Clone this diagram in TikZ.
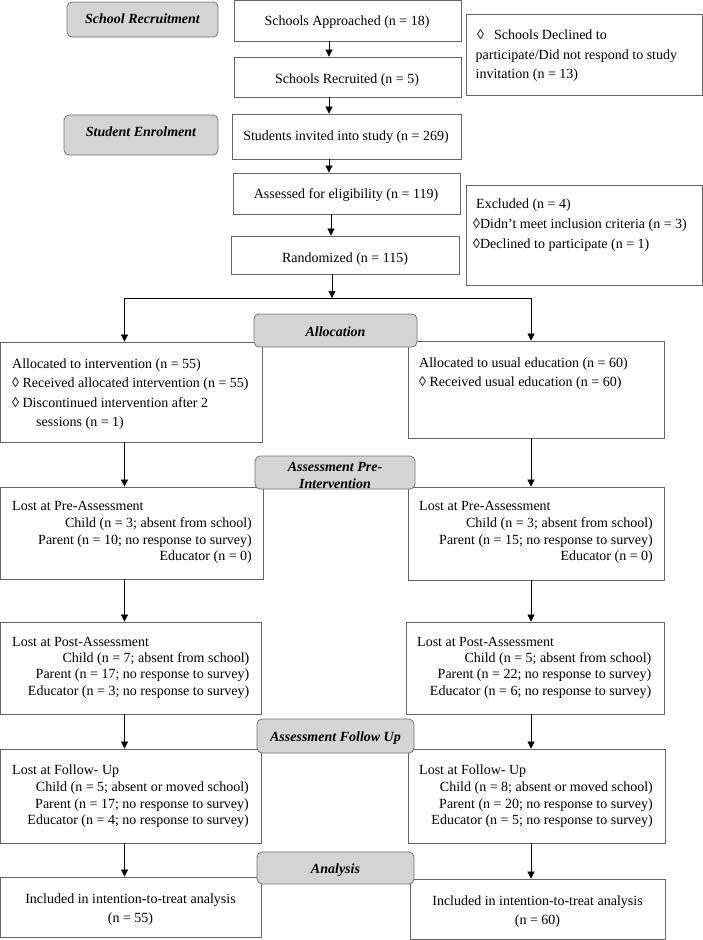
\documentclass[tikz,border=0pt]{standalone}
\usepackage{fontspec}
\setmainfont{Liberation Serif}
\usetikzlibrary{fit,arrows.meta}
\begin{document}
\begin{tikzpicture}[x=1pt,y=-1pt,
 box/.style={draw=black!60, line width=0.8pt, inner sep=0pt},
 stage/.style={draw=black!55, fill=black!17, rounded corners=5pt, line width=0.8pt, inner sep=0pt},
 tl/.style={anchor=mid west, inner sep=0pt, yshift=-3pt, font=\fontsize{14}{16}\selectfont},
 tr/.style={anchor=mid east, inner sep=0pt, yshift=-3pt, font=\fontsize{14}{16}\selectfont},
 tc/.style={anchor=mid, inner sep=0pt, yshift=-3pt, font=\fontsize{14}{16}\selectfont},
 ts/.style={anchor=mid, inner sep=0pt, yshift=-3pt, font=\fontsize{14}{16}\selectfont\bfseries\itshape},
 arr/.style={-{Triangle[length=7pt,width=7pt]}, line width=0.7pt, black},
 ln/.style={line width=0.7pt, black}]
\useasboundingbox (0,0) rectangle (702,940);

% ---- top part
\node[stage, fit={(67,2)(218,37)}] (sr) {};
\node[ts] (srT) at (142.5,18) {School Recruitment};
\node[box, fit={(234,0)(461,41)}] (appr) {};
\node[tc] (apprT) at (347,20) {Schools Approached (n = 18)};
\node[box, fit={(466,14)(702,95)}] (decl) {};
\node[tl] (decl1) at (477,34) {◊\hspace{10pt}Schools Declined to};
\node[tl] (decl2) at (475.5,54) {participate/Did not respond to study};
\node[tl] (decl3) at (475.5,73) {invitation (n = 13)};
\node[box, fit={(234,57)(461,97)}] (recr) {};
\node[tc] (recrT) at (347,78) {Schools Recruited (n = 5)};
\node[stage, fit={(64,115)(218,155)}] (se) {};
\node[ts] (seT) at (141,131) {Student Enrolment};
\node[box, fit={(232,114)(461,159)}] (stud) {};
\node[tc] (studT) at (346,135) {Students invited into study (n = 269)};
\node[box, fit={(233,173)(460,214)}] (asse) {};
\node[tc] (asseT) at (346,193) {Assessed for eligibility (n = 119)};
\node[box, fit={(466,185)(702,285)}] (excl) {};
\node[tl] (excl1) at (476,203) {Excluded (n = 4)};
\node[tl] (excl2) at (473,223) {◊Didn’t meet inclusion criteria (n = 3)};
\node[tl] (excl3) at (473,243) {◊Declined to participate (n = 1)};
\node[box, fit={(231.5,236)(459.5,274)}] (rand) {};
\node[tc] (randT) at (345,257) {Randomized (n = 115)};

\coordinate (cA) at (329,0);
\coordinate (cB) at (331,0);
\coordinate (split) at (332,298);
\coordinate (splitL) at (124.5,298);
\coordinate (splitR) at (531,298);
\coordinate (colL) at (124.5,0);
\coordinate (colR) at (531,0);

% ---- allocation
\node[box, fit={(0,342)(262,442)}] (allocL) {};
\node[tl] (aL1) at (12,363) {Allocated to intervention (n = 55)};
\node[tl] (aL2) at (12,382) {◊ Received allocated intervention (n = 55)};
\node[tl] (aL3) at (12,402) {◊ Discontinued intervention after 2};
\node[tl] (aL4) at (36,421) {sessions (n = 1)};
\node[box, fit={(408,341)(664,438)}] (allocR) {};
\node[tl] (aR1) at (419,362) {Allocated to usual education (n = 60)};
\node[tl] (aR2) at (419,381) {◊ Received usual education (n = 60)};

% ---- pre
\node[box, fit={(0,487)(263,579)}] (preL) {};
\node[tl] (pL1) at (12,505) {Lost at Pre-Assessment};
\node[tr] (pL2) at (252,522) {Child (n = 3; absent from school)};
\node[tr] (pL3) at (252,539) {Parent (n = 10; no response to survey)};
\node[tr] (pL4) at (252,555) {Educator (n = 0)};
\node[box, fit={(408,487)(664,580)}] (preR) {};
\node[tl] (pR1) at (419,505) {Lost at Pre-Assessment};
\node[tr] (pR2) at (653,522) {Child (n = 3; absent from school)};
\node[tr] (pR3) at (653,539) {Parent (n = 15; no response to survey)};
\node[tr] (pR4) at (653,555) {Educator (n = 0)};

% ---- post
\node[box, fit={(0,622)(261,714)}] (postL) {};
\node[tl] (qL1) at (12,641) {Lost at Post-Assessment};
\node[tr] (qL2) at (249.5,657) {Child (n = 7; absent from school)};
\node[tr] (qL3) at (249.5,673) {Parent (n = 17; no response to survey)};
\node[tr] (qL4) at (249.5,690) {Educator (n = 3; no response to survey)};
\node[box, fit={(406,622)(664,714)}] (postR) {};
\node[tl] (qR1) at (417,641) {Lost at Post-Assessment};
\node[tr] (qR2) at (651.5,657) {Child (n = 5; absent from school)};
\node[tr] (qR3) at (651.5,673) {Parent (n = 22; no response to survey)};
\node[tr] (qR4) at (651.5,690) {Educator (n = 6; no response to survey)};

% ---- follow up
\node[box, fit={(0,749)(261,843)}] (folL) {};
\node[tl] (fL1) at (12,769) {Lost at Follow- Up};
\node[tr] (fL2) at (249,786) {Child (n = 5; absent or moved school)};
\node[tr] (fL3) at (249,803) {Parent (n = 17; no response to survey)};
\node[tr] (fL4) at (249,819) {Educator (n = 4; no response to survey)};
\node[box, fit={(408,749)(665,843)}] (folR) {};
\node[tl] (fR1) at (419,769) {Lost at Follow- Up};
\node[tr] (fR2) at (653,786) {Child (n = 8; absent or moved school)};
\node[tr] (fR3) at (653,803) {Parent (n = 20; no response to survey)};
\node[tr] (fR4) at (653,819) {Educator (n = 5; no response to survey)};

% ---- analysis
\node[box, fit={(0,877)(261,937)}] (inclL) {};
\node[tc] (iL1) at (130.5,898) {Included in intention-to-treat analysis};
\node[tc] (iL2) at (130.5,917) {(n = 55)};
\node[box, fit={(410,879)(665,939)}] (inclR) {};
\node[tc] (iR1) at (537.5,900) {Included in intention-to-treat analysis};
\node[tc] (iR2) at (537.5,919) {(n = 60)};

% ---- stage labels on top
\node[stage, fit={(254,314)(417,347)}] (alloc) {};
\node[ts] (allocT) at (335.5,331) {Allocation};
\node[stage, fit={(255,456)(415,489)}] (pre) {};
\node[ts] (preT1) at (335,466) {Assessment Pre-};
\node[ts] (preT2) at (335,483) {Intervention};
\node[stage, fit={(257,719)(414,753)}] (fol) {};
\node[ts] (folT) at (335.5,736) {Assessment Follow Up};
\node[stage, fit={(257,852)(414,884)}] (ana) {};
\node[ts] (anaT) at (335.5,868) {Analysis};

% ---- connectors
\draw[arr] (appr.south -| cA) -- (recr.north -| cA);
\draw[arr] (recr.south -| cA) -- (stud.north -| cA);
\draw[arr] (stud.south -| cA) -- (asse.north -| cA);
\draw[arr] (asse.south -| cB) -- (rand.north -| cB);
\draw[arr] (rand.south -| split) -- (split);
\draw[ln] (splitL) -- (splitR);
\draw[arr] (splitL) -- (allocL.north -| splitL);
\draw[arr] (splitR) -- (allocR.north -| splitR);
\draw[arr] (allocL.south -| colL) -- (preL.north -| colL);
\draw[arr] (allocR.south -| colR) -- (preR.north -| colR);
\draw[arr] (preL.south -| colL) -- (postL.north -| colL);
\draw[arr] (preR.south -| colR) -- (postR.north -| colR);
\draw[arr] (postL.south -| colL) -- (folL.north -| colL);
\draw[arr] (postR.south -| colR) -- (folR.north -| colR);
\draw[arr] (folL.south -| colL) -- (inclL.north -| colL);
\draw[arr] (folR.south -| colR) -- (inclR.north -| colR);
\end{tikzpicture}
\end{document}
